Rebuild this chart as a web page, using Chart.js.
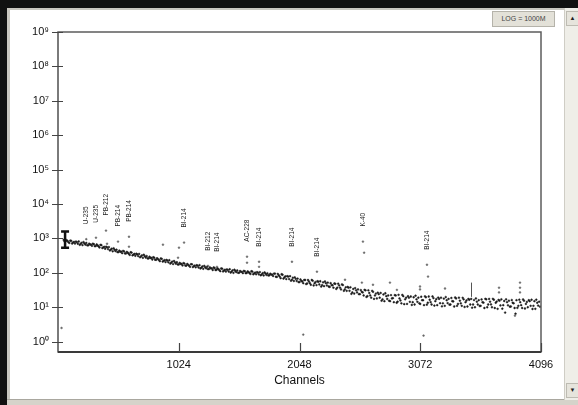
<!DOCTYPE html>
<html>
<head>
<meta charset="utf-8">
<script src="https://cdn.jsdelivr.net/npm/chart.js@4.4.1/dist/chart.umd.min.js"></script>
<style>
  body { margin: 0; background: #fff; }
  #wrap { position: relative; width: 578px; height: 405px; overflow: hidden; background: #fff; font-family: "Liberation Sans", Arial, sans-serif; }
  #spectrum { position: absolute; left: 0; top: 0; }
  .blk { position: absolute; background: #111; }
  .bevel { position: absolute; background: #c9c7c0; }
  #scroll { position: absolute; left: 564px; top: 8px; width: 14px; height: 392px; background: #efeee8; border-left: 1px solid #cfcdc5; }
  .arrow { position: absolute; left: 1px; width: 11px; height: 13px; background: #e6e4dc; border: 1px solid #bdbbb2; font-size: 6px; line-height: 13px; text-align: center; color: #222; }
  #logbtn { position: absolute; left: 492px; top: 11px; width: 61px; height: 14px; background: #e3e1d8; border: 1px solid #b5b3aa; font-size: 7px; line-height: 14px; text-align: center; color: #444; }
  #bottom { position: absolute; left: 7px; top: 399px; width: 571px; height: 6px; background: #d6d3ca; border-top: 1px solid #a9a79f; }
</style>
</head>
<body>
<div id="wrap">
  <canvas id="spectrum" width="578" height="405"></canvas>
  <div class="blk" style="left:0;top:0;width:578px;height:8px"></div>
  <div class="blk" style="left:0;top:0;width:7px;height:405px"></div>
  <div class="bevel" style="left:7px;top:8px;width:3px;height:392px"></div>
  <div class="bevel" style="left:7px;top:8px;width:557px;height:2px"></div>
  <div id="bottom"></div>
  <div id="scroll">
    <div class="arrow" style="top:3px">▲</div>
    <div class="arrow" style="top:375px">▼</div>
  </div>
  <div id="logbtn">LOG = 1000M</div>
</div>
<script>
// spectrum, even blocks (channel, counts)
const channels = [
  48,64,80,96,112,128,144,160,176,192,208,224,240,256,272,288,
  304,320,336,352,368,384,400,416,432,448,464,480,496,512,528,544,
  560,576,592,608,624,640,656,672,688,704,720,736,752,768,784,800,
  816,832,848,864,880,896,912,928,944,960,976,992,1008,1024,1040,1056,
  1072,1088,1104,1120,1136,1152,1168,1184,1200,1216,1232,1248,1264,1280,1296,1312,
  1328,1344,1360,1376,1392,1408,1424,1440,1456,1472,1488,1504,1520,1536,1552,1568,
  1584,1600,1616,1632,1648,1664,1680,1696,1712,1728,1744,1760,1776,1792,1808,1824,
  1840,1856,1872,1888,1904,1920,1936,1952,1968,1984,2000,2016,2032,2048,2064,2080,
  2096,2112,2128,2144,2160,2176,2192,2208,2224,2240,2256,2272,2288,2304,2320,2336,
  2352,2368,2384,2400,2416,2432,2448,2464,2480,2496,2512,2528,2544,2560,2576,2592,
  2608,2624,2640,2656,2672,2688,2704,2720,2736,2752,2768,2784,2800,2816,2832,2848,
  2864,2880,2896,2912,2928,2944,2960,2976,2992,3008,3024,3040,3056,3072,3088,3104,
  3120,3136,3152,3168,3184,3200,3216,3232,3248,3264,3280,3296,3312,3328,3344,3360,
  3376,3392,3408,3424,3440,3456,3472,3488,3504,3520,3536,3552,3568,3584,3600,3616,
  3632,3648,3664,3680,3696,3712,3728,3744,3760,3776,3792,3808,3824,3840,3856,3872,
  3888,3904,3920,3936,3952,3968,3984,4000,4016,4032,4048,4064,4080
];
const counts = [
  905,828,846,741,851,762,712,785,815,690,640,720,738,632,665,610,
  678,599,627,546,638,549,502,551,561,470,423,469,471,400,412,373,
  419,366,383,332,387,338,313,344,355,300,273,304,307,263,272,244,
  274,239,251,218,255,223,206,227,233,197,180,201,203,175,182,164,
  186,162,171,150,177,156,145,161,167,142,131,146,150,129,135,121,
  138,122,128,112,132,117,109,122,127,108,100,113,117,101,107,98,
  111,99,105,93,109,97,91,101,105,90,84,95,97,85,89,81,
  95,76,85,70,88,74,66,78,80,63,58,67,68,54,58,50,
  62,49,56,45,59,50,44,55,57,44,41,50,52,39,44,37,
  48,37,43,33,44,33,30,37,38,27,25,31,33,24,28,22,
  31,21,26,19,28,22,18,24,26,17,15,21,22,15,18,14,
  22,14.5,18,13,21,17,12.5,19,20.5,14,12,17,19,12.5,16,11.5,
  19.5,13.5,16.5,12,18.5,15,11.5,17.5,19,13,11,16,17.5,12,15,10.5,
  18,12.5,15.5,11,17,14,10.5,16.5,17.5,12,10,14.5,16,11,14,9.5,
  17,12,14.5,10,16.5,13.5,9,15.5,17,11.5,7,14,15.5,10.5,13.5,9.5,
  16,11,14,9.5,15.5,12.5,10,15,16.5,11,9,13.5,14.5
];

// spectrum, odd blocks (channel, counts)
const channelsB = [
  56,72,88,104,120,136,152,168,184,200,216,232,248,264,280,296,
  312,328,344,360,376,392,408,424,440,456,472,488,504,520,536,552,
  568,584,600,616,632,648,664,680,696,712,728,744,760,776,792,808,
  824,840,856,872,888,904,920,936,952,968,984,1000,1016,1032,1048,1064,
  1080,1096,1112,1128,1144,1160,1176,1192,1208,1224,1240,1256,1272,1288,1304,1320,
  1336,1352,1368,1384,1400,1416,1432,1448,1464,1480,1496,1512,1528,1544,1560,1576,
  1592,1608,1624,1640,1656,1672,1688,1704,1720,1736,1752,1768,1784,1800,1816,1832,
  1848,1864,1880,1896,1912,1928,1944,1960,1976,1992,2008,2024,2040,2056,2072,2088,
  2104,2120,2136,2152,2168,2184,2200,2216,2232,2248,2264,2280,2296,2312,2328,2344,
  2360,2376,2392,2408,2424,2440,2456,2472,2488,2504,2520,2536,2552,2568,2584,2600,
  2616,2632,2648,2664,2680,2696,2712,2728,2744,2760,2776,2792,2808,2824,2840,2856,
  2872,2888,2904,2920,2936,2952,2968,2984,3000,3016,3032,3048,3064,3080,3096,3112,
  3128,3144,3160,3176,3192,3208,3224,3240,3256,3272,3288,3304,3320,3336,3352,3368,
  3384,3400,3416,3432,3448,3464,3480,3496,3512,3528,3544,3560,3576,3592,3608,3624,
  3640,3656,3672,3688,3704,3720,3736,3752,3768,3784,3800,3816,3832,3848,3864,3880,
  3896,3912,3928,3944,3960,3976,3992,4008,4024,4040,4056,4072,4088
];
const countsB = [
  813,893,786,869,713,796,812,701,650,746,784,662,631,705,662,703,
  597,666,589,651,526,572,575,489,447,504,517,429,402,443,412,436,
  367,407,359,396,322,355,359,308,284,322,335,279,263,293,271,284,
  240,266,236,261,213,234,237,202,186,212,221,184,175,195,182,192,
  163,181,161,179,147,163,166,143,134,153,160,135,128,144,134,143,
  121,135,120,134,110,123,125,109,102,118,123,105,100,113,107,114,
  98,110,99,111,91,102,105,90,85,98,103,87,84,94,89,95,
  77,93,78,91,68,79,80,66,59,72,74,58,54,64,56,62,
  47,62,50,62,43,54,57,46,40,53,56,43,40,50,43.5,49,
  34,48.5,37,46,30,38,39,30,24.5,34,36,27,24,31.5,27,32,
  20,31,22,30,17.5,25,26.5,19,15.5,23.5,25.5,17.5,15.5,22.5,18.4,22.5,
  13.5,23,15.8,22.8,12.3,19,21,14.4,11.7,19.5,21.7,14.4,13,20.2,16,20.8,
  11.9,20.5,14.1,20.6,11.2,17.2,19.1,13.1,10.6,17.8,19.8,13.2,11.9,18.6,14.8,19.2,
  11,19,13,18.8,10.2,15.7,17.4,12,9.7,16.2,18,12,10.9,16.9,13.6,17.6,
  10,17.5,12.1,17.6,9.5,14.6,16.3,11.3,9.1,15.2,17,11.4,10.4,16.2,13,6.5,
  9.6,16.6,11.5,16.8,9.2,14.3,16,11,8.9,15,16.6,11.2,10.4
];

// isolated points above / below the continuum
const sparseChannels = [30,240,322,407,416,509,602,602,890,1018,1026,1069,1272,1348,1603,1603,1705,1705,1984,2080,2196,2434,2577,2586,2596,2671,2815,2874,3070,3070,3100,3129,3138,3282,3740,3740,3875,3918,3918,3918];
const sparseCounts   = [2.5,950,1050,1690,700,810,1120,575,660,275,540,760,160,150,295,197,210,150,210,1.6,108,63,52,810,385,45,52,32,40,33,1.5,172,78,35,37,27,5.7,52,37,27];

// nuclide identifications
const peakNames    = ['U-235','U-235','PB-212','PB-214','PB-214','BI-214','BI-212','BI-214','AC-228','BI-214','BI-214','BI-214','K-40','BI-214'];
const peakChannels = [240,322,407,509,602,1069,1272,1348,1603,1705,1984,2196,2586,3129];
const peakCounts   = [950,1050,1690,810,1120,760,160,150,295,210,210,108,810,172];

// cursor (I-beam) and ROI marker
const cursorChannel = 60, cursorLow = 540, cursorHigh = 1600;
const markerChannel = 3500, markerLow = 20, markerHigh = 52;

const xTickValues = [1024, 2048, 3072, 4096];
const yTickValues = [1, 10, 100, 1e3, 1e4, 1e5, 1e6, 1e7, 1e8, 1e9];
const sup = ['\u2070','\u00b9','\u00b2','\u00b3','\u2074','\u2075','\u2076','\u2077','\u2078','\u2079'];

const decorations = {
  id: 'decorations',
  afterDatasetsDraw(chart) {
    const {ctx, chartArea: a, scales: {x, y}} = chart;
    ctx.save();
    // plot frame
    ctx.strokeStyle = '#5c5c5c';
    ctx.lineWidth = 1.5;
    ctx.strokeRect(a.left, a.top, a.right - a.left, a.bottom - a.top);
    ctx.strokeStyle = '#7a7a7a';
    ctx.lineWidth = 2;
    ctx.beginPath(); ctx.moveTo(a.left, a.top); ctx.lineTo(a.left, a.bottom); ctx.stroke();
    ctx.strokeStyle = '#3a3a3a';
    ctx.beginPath(); ctx.moveTo(a.left, a.bottom); ctx.lineTo(a.right, a.bottom); ctx.stroke();

    // tick marks
    ctx.strokeStyle = '#444';
    ctx.lineWidth = 1.2;
    ctx.beginPath();
    yTickValues.forEach(v => {
      const py = Math.round(y.getPixelForValue(v)) + 0.5;
      ctx.moveTo(a.left - 6, py); ctx.lineTo(a.left + 5, py);
    });
    xTickValues.forEach(v => {
      const px = Math.round(x.getPixelForValue(v)) + 0.5;
      ctx.moveTo(px, a.bottom); ctx.lineTo(px, a.bottom - 9);
    });
    ctx.stroke();

    // I-beam cursor
    const cx = x.getPixelForValue(cursorChannel);
    const cTop = y.getPixelForValue(cursorHigh), cBot = y.getPixelForValue(cursorLow);
    ctx.strokeStyle = '#111';
    ctx.lineWidth = 2.5;
    ctx.beginPath();
    ctx.moveTo(cx, cTop); ctx.lineTo(cx, cBot);
    ctx.moveTo(cx - 4, cTop); ctx.lineTo(cx + 4, cTop);
    ctx.moveTo(cx - 4, cBot); ctx.lineTo(cx + 4, cBot);
    ctx.stroke();

    // ROI marker
    const mx = Math.round(x.getPixelForValue(markerChannel)) + 0.5;
    ctx.strokeStyle = '#555';
    ctx.lineWidth = 1;
    ctx.beginPath();
    ctx.moveTo(mx, y.getPixelForValue(markerHigh)); ctx.lineTo(mx, y.getPixelForValue(markerLow));
    ctx.stroke();

    // peak labels
    ctx.fillStyle = '#222';
    ctx.font = '6.5px "Liberation Sans", Arial, sans-serif';
    ctx.textAlign = 'left';
    ctx.textBaseline = 'middle';
    peakNames.forEach((name, i) => {
      const px = x.getPixelForValue(peakChannels[i]);
      const py = y.getPixelForValue(peakCounts[i]) - 15;
      ctx.save();
      ctx.translate(px, py);
      ctx.rotate(-Math.PI / 2);
      ctx.fillText(name, 0, 0);
      ctx.restore();
    });
    ctx.restore();
  }
};

const dots = (color, r) => ({
  pointRadius: r,
  pointBorderWidth: 0.5,
  pointBackgroundColor: color,
  pointBorderColor: color
});

new Chart(document.getElementById('spectrum').getContext('2d'), {
  type: 'scatter',
  data: {
    datasets: [
      Object.assign({ label: 'Counts', data: channels.map((c, i) => ({x: c, y: counts[i]})) }, dots('#1a1a1a', 0.9)),
      Object.assign({ label: 'Counts B', data: channelsB.map((c, i) => ({x: c, y: countsB[i]})) }, dots('#1a1a1a', 0.9)),
      Object.assign({ label: 'Isolated', data: sparseChannels.map((c, i) => ({x: c, y: sparseCounts[i]})) }, dots('#666', 0.9))
    ]
  },
  options: {
    responsive: false,
    animation: false,
    layout: { padding: { left: 0, top: 32, right: 37, bottom: 5 } },
    plugins: { legend: { display: false }, tooltip: { enabled: false } },
    scales: {
      x: {
        type: 'linear',
        min: 0,
        max: 4096,
        afterBuildTicks: s => { s.ticks = xTickValues.map(v => ({value: v})); },
        afterFit: s => { s.height = 48; },
        grid: { display: false, drawTicks: false },
        border: { display: false },
        ticks: { padding: 6, maxRotation: 0, color: '#111', font: { family: '"Liberation Sans", Arial, sans-serif', size: 11 }, callback: v => String(v) },
        title: { display: true, text: 'Channels', color: '#111', padding: { top: 0, bottom: 12 }, font: { family: '"Liberation Sans", Arial, sans-serif', size: 12 } }
      },
      y: {
        type: 'logarithmic',
        min: 0.5,
        max: 1e9,
        afterBuildTicks: s => { s.ticks = yTickValues.map(v => ({value: v})); },
        afterFit: s => { s.width = 58; },
        grid: { display: false, drawTicks: false },
        border: { display: false },
        ticks: {
          padding: 9,
          color: '#111',
          font: { family: '"Liberation Sans", Arial, sans-serif', size: 11 },
          callback: v => '10' + sup[Math.round(Math.log10(v))]
        }
      }
    }
  },
  plugins: [decorations]
});
</script>
</body>
</html>
